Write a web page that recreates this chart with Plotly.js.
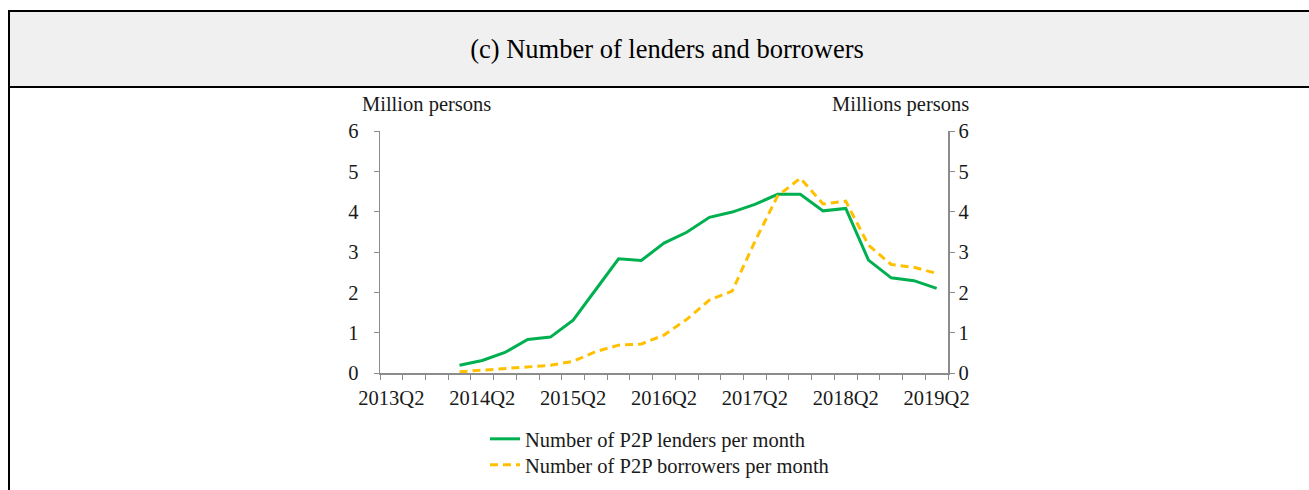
<!DOCTYPE html>
<html>
<head>
<meta charset="utf-8">
<script src="https://cdn.plot.ly/plotly-3.0.1.min.js"></script>
<style>
  html, body { margin: 0; padding: 0; background: #ffffff; }
  #wrap { position: relative; width: 1309px; height: 490px; overflow: hidden; }
  #frame { position: absolute; left: 8px; top: 10px; width: 1320px; height: 500px;
           border-left: 2px solid #000; border-top: 2px solid #000; box-sizing: border-box; }
  #header { position: absolute; left: 10px; top: 12px; width: 1299px; height: 74px;
            background: #f0f0f0; border-bottom: 2px solid #000; }
  #chart { position: absolute; left: 0; top: 0; width: 1309px; height: 490px; }
</style>
</head>
<body>
<div id="wrap">
  <div id="frame"></div>
  <div id="header"></div>
  <div id="chart"></div>
</div>
<script>
// All quarters on the category axis
const quarters = [
  "2013Q2","2013Q3","2013Q4","2014Q1","2014Q2","2014Q3","2014Q4",
  "2015Q1","2015Q2","2015Q3","2015Q4","2016Q1","2016Q2","2016Q3","2016Q4",
  "2017Q1","2017Q2","2017Q3","2017Q4","2018Q1","2018Q2","2018Q3","2018Q4",
  "2019Q1","2019Q2"
];
// Quarters that carry data
const dataQuarters = [
  "2014Q1","2014Q2","2014Q3","2014Q4",
  "2015Q1","2015Q2","2015Q3","2015Q4","2016Q1","2016Q2","2016Q3","2016Q4",
  "2017Q1","2017Q2","2017Q3","2017Q4","2018Q1","2018Q2","2018Q3","2018Q4",
  "2019Q1","2019Q2"
];
// Million persons
const lenders = [0.19,0.31,0.51,0.83,0.89,1.31,2.07,2.83,2.79,3.22,3.49,3.86,
                 3.99,4.18,4.43,4.43,4.02,4.08,2.80,2.36,2.29,2.10];
const borrowers = [0.03,0.07,0.12,0.16,0.19,0.29,0.53,0.69,0.72,0.94,1.33,1.81,
                   2.03,3.26,4.39,4.83,4.19,4.26,3.17,2.69,2.62,2.47];
const tickLabels = ["2013Q2","2014Q2","2015Q2","2016Q2","2017Q2","2018Q2","2019Q2"];
const yTicks = [0,1,2,3,4,5,6];

const seriesNames = ["Number of P2P lenders per month","Number of P2P borrowers per month"];
const titleText = "(c) Number of lenders and borrowers";
const leftUnit = "Million persons";
const rightUnit = "Millions persons";

const serif = "Liberation Serif, Times New Roman, serif";
const ticktext = quarters.map(q => tickLabels.includes(q) ? q : "");
const fs = 20.5;
const txt = "#1a1a1a";

const traces = [
  { x: dataQuarters, y: lenders, name: seriesNames[0], type: "scatter", mode: "lines",
    line: { color: "#00b050", width: 3 }, xaxis: "x", yaxis: "y", legend: "legend" },
  { x: dataQuarters, y: borrowers, name: seriesNames[1], type: "scatter", mode: "lines",
    line: { color: "#ffc000", width: 3, dash: "8px,5px" }, xaxis: "x", yaxis: "y2",
    legend: "legend2" }
];

const axisColor = "#8c8c8c";
const legendBase = {
  xref: "container", yref: "container", xanchor: "left", yanchor: "top",
  orientation: "v", bgcolor: "rgba(0,0,0,0)",
  font: { family: serif, size: fs, color: txt }, itemwidth: 30, tracegroupgap: 0
};
const layout = {
  width: 1309, height: 490,
  margin: { l: 380, r: 361, t: 131, b: 117, autoexpand: false },
  paper_bgcolor: "rgba(0,0,0,0)", plot_bgcolor: "rgba(0,0,0,0)",
  font: { family: serif, size: fs, color: txt },
  title: { text: titleText, font: { family: serif, size: 26.5, color: "#000" },
           x: 667/1309, xref: "container", xanchor: "center",
           y: 1 - 49/490, yref: "container", yanchor: "middle" },
  showlegend: true,
  legend: Object.assign({}, legendBase, { x: 485/1309, y: 1 - 419/490 }),
  legend2: Object.assign({}, legendBase, { x: 485/1309, y: 1 - 445/490 }),
  xaxis: {
    type: "category", categoryorder: "array", categoryarray: quarters,
    range: [-0.5, quarters.length - 0.5], automargin: false,
    tickmode: "array", tickvals: quarters, ticktext: ticktext,
    tickson: "boundaries", ticks: "outside", ticklen: 5, tickcolor: axisColor,
    showline: true, linecolor: axisColor, linewidth: 1.5,
    showgrid: false, zeroline: false, tickangle: 0, ticklabelstandoff: 6,
    tickfont: { family: serif, size: fs, color: txt }
  },
  yaxis: {
    range: [0, 6], tickmode: "array", tickvals: yTicks, automargin: false,
    ticks: "outside", ticklen: 5, tickcolor: axisColor,
    showline: true, linecolor: axisColor, linewidth: 1.5,
    showgrid: false, zeroline: false, ticklabelstandoff: 11,
    tickfont: { family: serif, size: fs, color: txt }
  },
  yaxis2: {
    range: [0, 6], tickmode: "array", tickvals: yTicks, overlaying: "y", side: "right",
    automargin: false,
    ticks: "outside", ticklen: 5, tickcolor: axisColor,
    showline: true, linecolor: axisColor, linewidth: 1.5,
    showgrid: false, zeroline: false,
    tickfont: { family: serif, size: fs, color: txt }
  },
  annotations: [
    { text: leftUnit, xref: "paper", yref: "paper", x: -0.035, y: 1 + 27/242,
      xanchor: "left", yanchor: "middle", showarrow: false,
      font: { family: serif, size: fs, color: txt } },
    { text: rightUnit, xref: "paper", yref: "paper", x: 1.04, y: 1 + 27/242,
      xanchor: "right", yanchor: "middle", showarrow: false,
      font: { family: serif, size: fs, color: txt } }
  ]
};

Plotly.newPlot("chart", traces, layout, { displayModeBar: false, staticPlot: true });
</script>
</body>
</html>
